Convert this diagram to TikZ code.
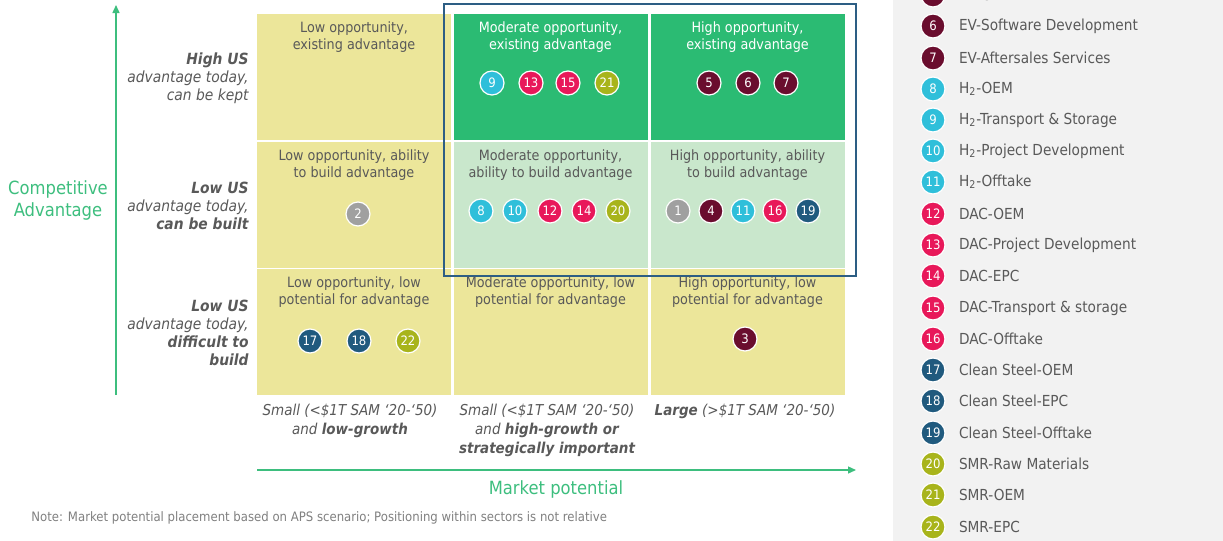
\documentclass[tikz,border=0pt]{standalone}
\usepackage{fontspec}
\setmainfont{DejaVu Sans}[FakeStretch=0.9]
\usetikzlibrary{arrows.meta, positioning}

\definecolor{cyell}{HTML}{ECE69A}
\definecolor{cdark}{HTML}{2BBB73}
\definecolor{clight}{HTML}{C9E7CC}
\definecolor{txt}{HTML}{595959}
\definecolor{notegray}{HTML}{808080}
\definecolor{axgreen}{HTML}{3DBE7E}
\definecolor{hlblue}{HTML}{2D5E84}
\definecolor{legbg}{HTML}{F2F2F2}
\definecolor{ev}{HTML}{6A0D2E}
\definecolor{hy}{HTML}{2FBFDA}
\definecolor{dac}{HTML}{E8185A}
\definecolor{steel}{HTML}{205A7E}
\definecolor{smr}{HTML}{A8B41B}
\definecolor{other}{HTML}{A0A0A0}

\begin{document}
\begin{tikzpicture}[x=0.5pt, y=-0.5pt,
        cell/.style={rectangle, minimum width=97pt, minimum height=63pt, inner sep=0pt},
        ttl/.style={anchor=north, align=center, inner sep=0pt, text=txt, font=\fontsize{7.1}{8.6}\selectfont},
        dot/.style={circle, draw=white, line width=0.6pt, minimum size=12pt, inner sep=0pt, text=white, font=\fontsize{6.5}{6.5}\selectfont},
        leg/.style={inner sep=0pt, text=txt, font=\fontsize{7.6}{8}\selectfont},
        rowlab/.style={anchor=east, align=right, inner sep=0pt, text=txt, font=\fontsize{7.7}{9.1}\selectfont\itshape},
        collab/.style={anchor=north, align=center, inner sep=0pt, text=txt, font=\fontsize{7.5}{9.5}\selectfont\itshape},
        axis/.style={draw=axgreen, line width=0.7pt, -{Triangle[length=4pt, width=3.5pt]}},
        axlab/.style={text=axgreen, align=center, font=\fontsize{9.1}{11}\selectfont},
        hlbox/.style={draw=hlblue, line width=1pt}
    ]
    \useasboundingbox (0,0) rectangle (1223,541);

    % Legend panel
    \fill[legbg] (893,0) rectangle (1223,541);

    % Matrix cells (column, row)
    \node (c11) [cell, fill=cyell]  at (354,77)    {};
    \node (c12) [cell, fill=cyell]  at (354,205)   {};
    \node (c13) [cell, fill=cyell]  at (354,332)   {};
    \node (c21) [cell, fill=cdark]  at (550.5,77)  {};
    \node (c22) [cell, fill=clight] at (550.5,205) {};
    \node (c23) [cell, fill=cyell]  at (550.5,332) {};
    \node (c31) [cell, fill=cdark]  at (747.5,77)  {};
    \node (c32) [cell, fill=clight] at (747.5,205) {};
    \node (c33) [cell, fill=cyell]  at (747.5,332) {};

    % Highlighted block
    \draw[hlbox] (444,4) rectangle (856,276);

    % Cell titles
    \node (t11) [ttl] at ([yshift=-4pt]c11.north) {Low opportunity,\\existing advantage};
    \node (t12) [ttl] at ([yshift=-4pt]c12.north) {Low opportunity, ability\\to build advantage};
    \node (t13) [ttl] at ([yshift=-4pt]c13.north) {Low opportunity, low\\potential for advantage};
    \node (t21) [ttl, text=white] at ([yshift=-4pt]c21.north) {Moderate opportunity,\\existing advantage};
    \node (t22) [ttl] at ([yshift=-4pt]c22.north) {Moderate opportunity,\\ability to build advantage};
    \node (t23) [ttl] at ([yshift=-4pt]c23.north) {Moderate opportunity, low\\potential for advantage};
    \node (t31) [ttl, text=white] at ([yshift=-4pt]c31.north) {High opportunity,\\existing advantage};
    \node (t32) [ttl] at ([yshift=-4pt]c32.north) {High opportunity, ability\\to build advantage};
    \node (t33) [ttl] at ([yshift=-4pt]c33.north) {High opportunity, low\\potential for advantage};

    % Sectors placed in the matrix
    \node (m9)  [dot, fill=hy]    at (492,83)  {9};
    \node (m13) [dot, fill=dac]   at (531,83)  {13};
    \node (m15) [dot, fill=dac]   at (568,83)  {15};
    \node (m21) [dot, fill=smr]   at (607,83)  {21};
    \node (m5)  [dot, fill=ev]    at (709,83)  {5};
    \node (m6)  [dot, fill=ev]    at (748,83)  {6};
    \node (m7)  [dot, fill=ev]    at (786,83)  {7};
    \node (m2)  [dot, fill=other] at (358,214) {2};
    \node (m8)  [dot, fill=hy]    at (481,211) {8};
    \node (m10) [dot, fill=hy]    at (515,211) {10};
    \node (m12) [dot, fill=dac]   at (550,211) {12};
    \node (m14) [dot, fill=dac]   at (584,211) {14};
    \node (m20) [dot, fill=smr]   at (618,211) {20};
    \node (m1)  [dot, fill=other] at (678,211) {1};
    \node (m4)  [dot, fill=ev]    at (711,211) {4};
    \node (m11) [dot, fill=hy]    at (743,211) {11};
    \node (m16) [dot, fill=dac]   at (775,211) {16};
    \node (m19) [dot, fill=steel] at (808,211) {19};
    \node (m17) [dot, fill=steel] at (310,341) {17};
    \node (m18) [dot, fill=steel] at (359,341) {18};
    \node (m22) [dot, fill=smr]   at (408,341) {22};
    \node (m3)  [dot, fill=ev]    at (745,339) {3};

    % Axes
    \coordinate (ybot) at (116,395);
    \coordinate (ytop) at (116,5);
    \coordinate (xlft) at (257,470);
    \coordinate (xrgt) at (856,470);
    \draw[axis] (ybot) -- (ytop);
    \draw[axis] (xlft) -- (xrgt);
    \node (yax) [axlab] at (58,200) {Competitive\\Advantage};
    \node (xax) [axlab] at (556,489) {Market potential};

    % Row and column captions
    \node (r1) [rowlab] at (249,78)  {\textbf{High US}\\advantage today,\\can be kept};
    \node (r2) [rowlab] at (249,206) {\textbf{Low US}\\advantage today,\\\textbf{can be built}};
    \node (r3) [rowlab] at (249,333) {\textbf{Low US}\\advantage today,\\\textbf{difficult to}\\\textbf{build}};
    \node (k1) [collab] at (350,404) {Small (<\$1T SAM ‘20-‘50)\\and \textbf{low-growth}};
    \node (k2) [collab] at (547,404) {Small (<\$1T SAM ‘20-‘50)\\and \textbf{high-growth or}\\\textbf{strategically important}};
    \node (k3) [collab] at (745,404) {\textbf{Large} (>\$1T SAM ‘20-‘50)};

    \node (note) [anchor=west, inner sep=0pt, text=notegray, font=\fontsize{6.5}{7}\selectfont] at (31,518) {Note: Market potential placement based on APS scenario; Positioning within sectors is not relative};

    % Legend
    \node (l5)  [dot, fill=ev]    at (933,-5)  {5};
    \node (l6)  [dot, fill=ev]    at (933,26)  {6};
    \node (l7)  [dot, fill=ev]    at (933,58)  {7};
    \node (l8)  [dot, fill=hy]    at (933,89)  {8};
    \node (l9)  [dot, fill=hy]    at (933,120) {9};
    \node (l10) [dot, fill=hy]    at (933,151) {10};
    \node (l11) [dot, fill=hy]    at (933,182) {11};
    \node (l12) [dot, fill=dac]   at (933,214) {12};
    \node (l13) [dot, fill=dac]   at (933,245) {13};
    \node (l14) [dot, fill=dac]   at (933,276) {14};
    \node (l15) [dot, fill=dac]   at (933,308) {15};
    \node (l16) [dot, fill=dac]   at (933,339) {16};
    \node (l17) [dot, fill=steel] at (933,370) {17};
    \node (l18) [dot, fill=steel] at (933,401) {18};
    \node (l19) [dot, fill=steel] at (933,433) {19};
    \node (l20) [dot, fill=smr]   at (933,464) {20};
    \node (l21) [dot, fill=smr]   at (933,495) {21};
    \node (l22) [dot, fill=smr]   at (933,527) {22};

    \node [leg, right=6.5pt of l5]  {EV-OEM};
    \node [leg, right=6.5pt of l6]  {EV-Software Development};
    \node [leg, right=6.5pt of l7]  {EV-Aftersales Services};
    \node [leg, right=6.5pt of l8]  {H\textsubscript{2}-OEM};
    \node [leg, right=6.5pt of l9]  {H\textsubscript{2}-Transport \& Storage};
    \node [leg, right=6.5pt of l10] {H\textsubscript{2}-Project Development};
    \node [leg, right=6.5pt of l11] {H\textsubscript{2}-Offtake};
    \node [leg, right=6.5pt of l12] {DAC-OEM};
    \node [leg, right=6.5pt of l13] {DAC-Project Development};
    \node [leg, right=6.5pt of l14] {DAC-EPC};
    \node [leg, right=6.5pt of l15] {DAC-Transport \& storage};
    \node [leg, right=6.5pt of l16] {DAC-Offtake};
    \node [leg, right=6.5pt of l17] {Clean Steel-OEM};
    \node [leg, right=6.5pt of l18] {Clean Steel-EPC};
    \node [leg, right=6.5pt of l19] {Clean Steel-Offtake};
    \node [leg, right=6.5pt of l20] {SMR-Raw Materials};
    \node [leg, right=6.5pt of l21] {SMR-OEM};
    \node [leg, right=6.5pt of l22] {SMR-EPC};

    \end{tikzpicture}
\end{document}
